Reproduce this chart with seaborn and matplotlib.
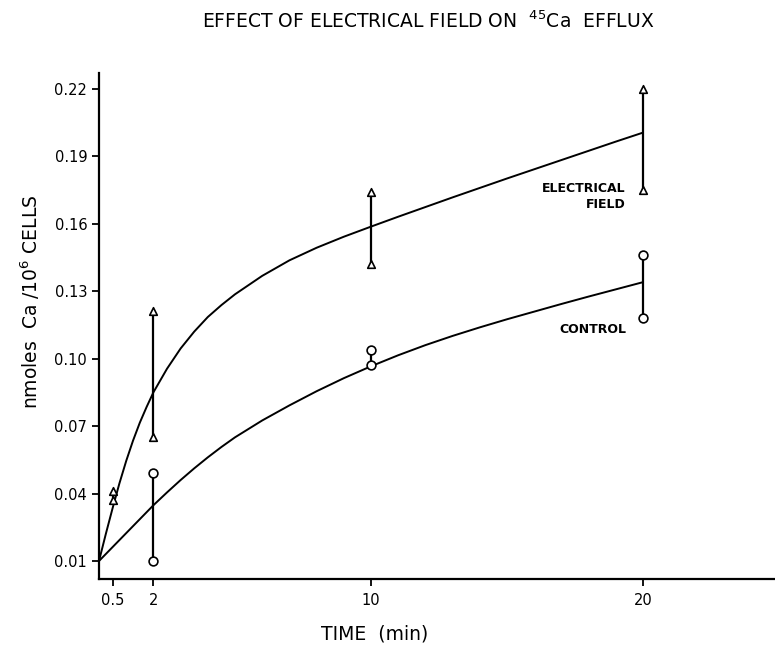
import matplotlib
matplotlib.use("Agg")
import matplotlib.pyplot as plt
import seaborn as sns
import pandas as pd

# ---- data ----
field_t = [0.5, 0.5, 2, 2, 10, 10, 20, 20]
field_v = [0.041, 0.037, 0.121, 0.065, 0.174, 0.142, 0.220, 0.175]
ctrl_t = [2, 2, 10, 10, 20, 20]
ctrl_v = [0.049, 0.010, 0.104, 0.097, 0.146, 0.118]

curve_t = [0, 0.25, 0.5, 0.75, 1, 1.25, 1.5, 1.75, 2, 2.5, 3, 3.5, 4, 4.5, 5,
           6, 7, 8, 9, 10, 11, 12, 13, 14, 15, 16, 17, 18, 19, 20]
field_curve = [0.0100, 0.0220, 0.0335, 0.0445, 0.0545, 0.0635, 0.0715, 0.0785,
               0.0850, 0.0955, 0.1045, 0.1120, 0.1185, 0.1238, 0.1286,
               0.1368, 0.1437, 0.1493, 0.1542, 0.1587, 0.1631, 0.1674, 0.1717,
               0.1759, 0.1801, 0.1842, 0.1883, 0.1924, 0.1965, 0.2005]
ctrl_curve = [0.0100, 0.0131, 0.0162, 0.0193, 0.0224, 0.0255, 0.0286, 0.0317,
              0.0348, 0.0405, 0.0460, 0.0512, 0.0561, 0.0607, 0.0650,
              0.0725, 0.0792, 0.0855, 0.0913, 0.0966, 0.1015, 0.1060, 0.1101,
              0.1139, 0.1175, 0.1209, 0.1243, 0.1276, 0.1308, 0.1340]

x_ticks = [0.5, 2, 10, 20]
x_ticklabels = ["0.5", "2", "10", "20"]
y_ticks = [0.01, 0.04, 0.07, 0.10, 0.13, 0.16, 0.19, 0.22]
y_ticklabels = ["0.01", "0.04", "0.07", "0.10", "0.13", "0.16", "0.19", "0.22"]

sns.set_style("ticks")
plt.rcParams["font.family"] = ["DejaVu Sans"]
plt.rcParams["text.color"] = "black"
plt.rcParams["axes.labelcolor"] = "black"
plt.rcParams["xtick.color"] = "black"
plt.rcParams["ytick.color"] = "black"

fig = plt.figure(figsize=(7.75, 6.47), dpi=100)
ax = fig.add_axes([99 / 775, 68 / 647, 676 / 775, 506 / 647])

curves = pd.DataFrame({"t": curve_t * 2,
                       "v": field_curve + ctrl_curve,
                       "g": ["field"] * len(curve_t) + ["ctrl"] * len(curve_t)})
sns.lineplot(data=curves, x="t", y="v", units="g", estimator=None,
             color="black", lw=1.4, ax=ax, sort=False,
             solid_joinstyle="round", solid_capstyle="round")

# vertical range bars between replicates
fdf = pd.DataFrame({"t": field_t, "v": field_v})
cdf = pd.DataFrame({"t": ctrl_t, "v": ctrl_v})
for df in (fdf, cdf):
    g = df.groupby("t")["v"]
    ax.vlines(g.min().index, g.min().values, g.max().values, color="black", lw=1.6)

sns.scatterplot(data=fdf, x="t", y="v", marker="^", s=30, facecolor="white",
                edgecolor="black", linewidth=1.2, ax=ax, zorder=5)
sns.scatterplot(data=cdf, x="t", y="v", marker="o", s=40, facecolor="white",
                edgecolor="black", linewidth=1.2, ax=ax, zorder=5)

ax.set_xlim(0, 24.85)
ax.set_ylim(0.002, 0.227)
ax.set_xticks(x_ticks)
ax.set_xticklabels(x_ticklabels)
ax.set_yticks(y_ticks)
ax.set_yticklabels(y_ticklabels)
ax.tick_params(axis="both", direction="out", length=5, width=1.3,
               labelsize=10.5, colors="black")
ax.tick_params(axis="x", pad=5)
ax.set_xlabel("")
ax.set_ylabel("")
for s in ("top", "right"):
    ax.spines[s].set_visible(False)
for s in ("left", "bottom"):
    ax.spines[s].set_linewidth(1.6)
    ax.spines[s].set_color("black")

ax.text(19.35, 0.1755, "ELECTRICAL", ha="right", va="center", fontsize=9,
        fontweight="bold")
ax.text(19.35, 0.1685, "FIELD", ha="right", va="center", fontsize=9,
        fontweight="bold")
ax.text(19.4, 0.113, "CONTROL", ha="right", va="center", fontsize=9,
        fontweight="bold")

fig.text(428 / 775, 1 - 21 / 647,
         r"EFFECT OF ELECTRICAL FIELD ON  $^{45}$Ca  EFFLUX",
         ha="center", va="center", fontsize=13.5)
fig.text(30 / 775, 1 - 302 / 647, r"nmoles  Ca /10$^{6}$ CELLS",
         rotation=90, ha="center", va="center", fontsize=13.5)
fig.text(375 / 775, 1 - 634 / 647, "TIME  (min)", ha="center", va="center",
         fontsize=13.5)

fig.savefig("out.png", dpi=100, facecolor="white")
